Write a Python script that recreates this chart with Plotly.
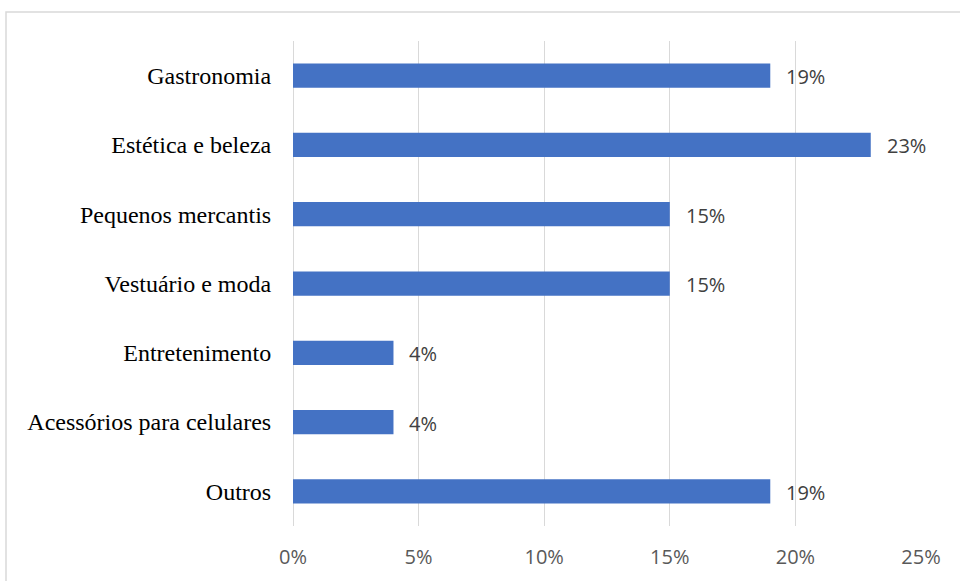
import plotly.graph_objects as go

# Share of respondents by business segment
categories = [
    "Gastronomia",
    "Estética e beleza",
    "Pequenos mercantis",
    "Vestuário e moda",
    "Entretenimento",
    "Acessórios para celulares",
    "Outros",
]
shares = [0.19, 0.23, 0.15, 0.15, 0.04, 0.04, 0.19]
x_ticks = [0, 0.05, 0.10, 0.15, 0.20, 0.25]
x_tick_labels = ["0%", "5%", "10%", "15%", "20%", "25%"]

BAR_COLOR = "#4472C4"
GRID_COLOR = "#d9d9d9"

fig = go.Figure(
    go.Bar(
        x=shares,
        y=categories,
        orientation="h",
        marker=dict(color=BAR_COLOR, line=dict(width=0)),
        width=0.35,
        hoverinfo="skip",
    )
)

# value labels to the right of each bar
for cat, val in zip(categories, shares):
    fig.add_annotation(
        x=val,
        y=cat,
        text=f"{round(val * 100)}%",
        showarrow=False,
        xanchor="left",
        xshift=14,
        yshift=-1,
        font=dict(family="Open Sans, sans-serif", size=20, color="#404040"),
    )

# outer chart frame
fig.add_shape(
    type="rect",
    xref="paper",
    yref="paper",
    x0=(6 - 293) / 628,
    x1=1.2,
    y0=-0.3,
    y1=(526 - 12) / 485,
    line=dict(color=GRID_COLOR, width=1.5),
    fillcolor="rgba(0,0,0,0)",
    layer="below",
)

fig.update_layout(
    width=960,
    height=581,
    margin=dict(l=293, r=39, t=41, b=55),
    paper_bgcolor="white",
    plot_bgcolor="white",
    showlegend=False,
    bargap=0.65,
    xaxis=dict(
        range=[0, 0.25],
        tickvals=x_ticks,
        ticktext=x_tick_labels,
        showgrid=True,
        gridcolor=GRID_COLOR,
        gridwidth=1,
        zeroline=True,
        zerolinecolor=GRID_COLOR,
        zerolinewidth=1,
        showline=False,
        ticks="outside",
        ticklen=13,
        tickcolor="rgba(0,0,0,0)",
        tickfont=dict(family="Open Sans, sans-serif", size=20, color="#595959"),
        automargin=False,
        fixedrange=True,
    ),
    yaxis=dict(
        categoryorder="array",
        categoryarray=categories[::-1],
        showgrid=False,
        zeroline=False,
        showline=False,
        ticks="outside",
        ticklen=16,
        tickcolor="rgba(0,0,0,0)",
        tickfont=dict(family="Liberation Serif, Times New Roman, serif", size=24, color="#000000"),
        automargin=False,
        fixedrange=True,
    ),
)

fig.write_html("out.html")
